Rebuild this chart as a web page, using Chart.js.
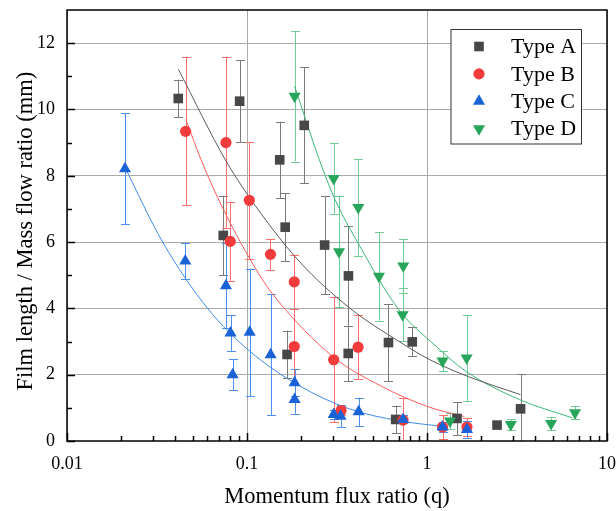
<!DOCTYPE html>
<html>
<head>
<meta charset="utf-8">
<script src="https://cdn.jsdelivr.net/npm/chart.js@4.4.0/dist/chart.umd.min.js"></script>
<style>
  html, body { margin: 0; padding: 0; background: #fff; }
</style>
</head>
<body>
<canvas id="grafico" width="616" height="511"></canvas>
<script>
// ===== DADOS =====
const seriesNames = ['Type A', 'Type B', 'Type C', 'Type D'];

// Type A
const qA = [0.0415, 0.0738, 0.091, 0.152, 0.163, 0.167, 0.208, 0.27, 0.365, 0.366, 0.611, 0.67, 0.828, 1.468, 2.45, 3.31];
const yA = [10.33, 6.20, 10.25, 8.48, 6.45, 2.61, 9.52, 5.91, 2.64, 4.98, 2.97, 0.65, 2.99, 0.68, 0.48, 0.97];
const eA = [0.57, 1.20, 1.23, 1.15, 1.02, 0.72, 1.75, 1.48, 0.83, 1.50, 1.16, 0.42, 0.44, 0.50, 0, 1.05];

// Type B
const qB = [0.0456, 0.0764, 0.0807, 0.103, 0.135, 0.183, 0.183, 0.303, 0.333, 0.414, 0.736, 1.22, 1.667];
const yB = [9.34, 9.00, 6.02, 7.26, 5.63, 4.80, 2.85, 2.45, 0.92, 2.83, 0.63, 0.42, 0.42];
const eB = [2.23, 2.57, 1.19, 1.76, 0.46, 0.82, 1.12, 1.88, 0.15, 0.96, 0.68, 0.37, 0.28];

// Type C
const qC = [0.021, 0.0454, 0.0764, 0.081, 0.0832, 0.1035, 0.1353, 0.1838, 0.1838, 0.303, 0.331, 0.417, 0.736, 1.22, 1.667];
const yC = [8.21, 5.43, 4.68, 3.26, 2.00, 3.28, 2.60, 1.76, 1.25, 0.80, 0.75, 0.88, 0.65, 0.42, 0.35];
const eC = [1.67, 0.54, 1.28, 0.54, 0.47, 1.92, 1.83, 0.40, 0.43, 0.15, 0.33, 0.43, 0.12, 0.15, 0.25];

// Type D
const qD = [0.1838, 0.303, 0.3245, 0.415, 0.541, 0.732, 0.738, 1.22, 1.342, 1.66, 2.92, 4.89, 6.64];
const yD = [10.40, 7.92, 5.71, 7.04, 4.97, 3.81, 5.28, 2.41, 0.60, 2.50, 0.50, 0.53, 0.85];
const eD = [1.97, 1.07, 1.68, 1.46, 1.34, 0.80, 0.81, 0.30, 0.25, 1.30, 0.16, 0.19, 0.20];

// curvas de ajuste (pontos lidos ao longo de cada curva)
const fitQA = [0.0416, 0.0764, 0.1146, 0.195, 0.37, 0.70, 1.03, 1.718, 3.3];
const fitYA = [11.21, 8.45, 7.00, 5.42, 4.02, 3.00, 2.46, 1.93, 1.40];
const fitQB = [0.0457, 0.0555, 0.0732, 0.117, 0.145, 0.299, 0.55, 1.03, 1.61];
const fitYB = [9.70, 8.49, 7.03, 5.02, 4.30, 2.55, 1.67, 1.02, 0.74];
const fitQC = [0.0208, 0.034, 0.0604, 0.103, 0.195, 0.37, 0.70, 1.22];
const fitYC = [8.29, 6.00, 4.00, 2.72, 1.67, 0.97, 0.61, 0.44];
const fitQD = [0.184, 0.252, 0.308, 0.421, 0.70, 1.122, 1.647, 3.26, 6.4];
const fitYD = [10.70, 8.49, 7.29, 5.90, 3.95, 2.86, 2.10, 1.25, 0.70];

const xTickLabels = ['0.01', '0.1', '1', '10'];
const yTicks = [0, 2, 4, 6, 8, 10, 12];

// ===== ESTILO =====
const FONTE = '"Liberation Serif", "Times New Roman", serif';
const COR_PONTO = ['#474747', '#f43c3c', '#1a63d6', '#27a55a'];
const COR_ERRO = ['#7a7a7a', '#ff6e6e', '#4b8ff0', '#72cc96'];
const COR_CURVA = ['#5a5a5a', '#ff5a5a', '#3d8be8', '#3cb878'];
const ESTILO = [
  { pointStyle: 'rect', radius: 6.8, rotation: 0 },
  { pointStyle: 'circle', radius: 5.6, rotation: 0 },
  { pointStyle: 'triangle', radius: 7, rotation: 0 },
  { pointStyle: 'triangle', radius: 7, rotation: 180 }
];

const pts = (xs, ys) => xs.map((x, i) => ({ x, y: ys[i] }));
const grupos = [[qA, yA, eA, fitQA, fitYA], [qB, yB, eB, fitQB, fitYB], [qC, yC, eC, fitQC, fitYC], [qD, yD, eD, fitQD, fitYD]];

const datasets = [];
grupos.forEach((g, k) => {
  datasets.push({
    label: seriesNames[k],
    data: pts(g[0], g[1]),
    errors: g[2],
    errColor: COR_ERRO[k],
    backgroundColor: COR_PONTO[k],
    borderColor: COR_PONTO[k],
    borderWidth: 0,
    pointStyle: ESTILO[k].pointStyle,
    pointRadius: ESTILO[k].radius,
    pointRotation: ESTILO[k].rotation,
    showLine: false,
    order: 4 - k
  });
});
grupos.forEach((g, k) => {
  datasets.push({
    label: 'fit ' + seriesNames[k],
    isFit: true,
    data: pts(g[3], g[4]),
    borderColor: COR_CURVA[k],
    borderWidth: 1,
    pointRadius: 0,
    showLine: true,
    cubicInterpolationMode: 'monotone',
    order: 10 + k
  });
});

const isDecada = v => Math.abs(Math.log10(v) - Math.round(Math.log10(v))) < 1e-6;
const semPadding = scale => { scale.paddingTop = 0; scale.paddingBottom = 0; scale.paddingLeft = 0; scale.paddingRight = 0; };

// barras de erro
const errorBars = {
  id: 'errorBars',
  beforeDatasetsDraw(chart) {
    const c = chart.ctx, xs = chart.scales.x, ys = chart.scales.y, a = chart.chartArea;
    c.save();
    c.beginPath();
    c.rect(a.left, a.top, a.right - a.left, a.bottom - a.top);
    c.clip();
    chart.data.datasets.forEach(ds => {
      if (!ds.errors) return;
      c.strokeStyle = ds.errColor;
      c.lineWidth = 1;
      ds.data.forEach((p, i) => {
        const e = ds.errors[i];
        if (!e) return;
        const x = Math.round(xs.getPixelForValue(p.x)) + 0.5;
        const y1 = ys.getPixelForValue(p.y + e);
        const y2 = ys.getPixelForValue(p.y - e);
        c.beginPath();
        c.moveTo(x, y1); c.lineTo(x, y2);
        c.moveTo(x - 4.5, Math.round(y1) + 0.5); c.lineTo(x + 4.5, Math.round(y1) + 0.5);
        c.moveTo(x - 4.5, Math.round(y2) + 0.5); c.lineTo(x + 4.5, Math.round(y2) + 0.5);
        c.stroke();
      });
    });
    c.restore();
  }
};

// moldura, ticks para dentro e legenda
const moldura = {
  id: 'moldura',
  afterDraw(chart) {
    const c = chart.ctx, a = chart.chartArea, xs = chart.scales.x, ys = chart.scales.y;
    c.save();
    c.strokeStyle = '#000';
    c.lineWidth = 1.5;
    c.beginPath();
    xs.ticks.forEach(t => {
      const x = Math.round(xs.getPixelForValue(t.value)) + 0.5;
      const len = isDecada(t.value) ? 8 : 5;
      c.moveTo(x, a.bottom); c.lineTo(x, a.bottom - len);
    });
    ys.ticks.forEach((t, i) => {
      const y = Math.round(ys.getPixelForValue(t.value)) + 0.5;
      c.moveTo(a.left, y); c.lineTo(a.left + 8, y);
      if (i < ys.ticks.length - 1) {
        const ym = Math.round(ys.getPixelForValue((t.value + ys.ticks[i + 1].value) / 2)) + 0.5;
        c.moveTo(a.left, ym); c.lineTo(a.left + 5, ym);
      }
    });
    c.stroke();
    c.strokeRect(a.left, a.top, a.right - a.left, a.bottom - a.top);

    // legenda
    const bx = a.right - 25.5, bw = 130.5, by = a.top + 19.5, bh = 114.5;
    c.fillStyle = '#fff';
    c.fillRect(bx - bw, by, bw, bh);
    c.strokeStyle = '#333';
    c.lineWidth = 1;
    c.strokeRect(bx - bw, by, bw, bh);
    c.font = '22px ' + FONTE;
    c.textBaseline = 'middle';
    c.textAlign = 'left';
    chart.data.datasets.filter(d => !d.isFit).forEach((d, i) => {
      const cy = by + 17 + i * 27.4;
      c.fillStyle = d.backgroundColor;
      Chart.helpers.drawPoint(c, { pointStyle: d.pointStyle, radius: d.pointRadius, rotation: d.pointRotation, borderWidth: 0 }, bx - bw + 28, cy);
      c.fillStyle = '#000';
      c.fillText(d.label, bx - bw + 60, cy + 1);
    });
    c.restore();
  }
};

new Chart(document.getElementById('grafico'), {
  type: 'scatter',
  data: { datasets },
  options: {
    responsive: false,
    animation: false,
    layout: { padding: { top: 10, right: 9, left: 0, bottom: 0 } },
    plugins: { legend: { display: false }, tooltip: { enabled: false } },
    scales: {
      x: {
        type: 'logarithmic',
        min: 0.01, max: 10,
        afterBuildTicks(scale) {
          const t = [];
          for (let e = -2; e <= 1; e++) {
            for (let m = 1; m <= 9; m++) {
              const v = Math.round(m * Math.pow(10, e) * 1e6) / 1e6;
              if (v >= scale.min - 1e-9 && v <= scale.max + 1e-9) t.push({ value: v, major: m === 1 });
            }
          }
          scale.ticks = t;
        },
        afterFit(scale) { scale.height = 70; semPadding(scale); },
        border: { display: false },
        grid: {
          drawTicks: false,
          color: c => (c.tick && isDecada(c.tick.value)) ? '#ababab' : 'rgba(0,0,0,0)',
          lineWidth: 1
        },
        ticks: {
          autoSkip: false, maxRotation: 0, padding: 12,
          color: '#000', font: { family: FONTE, size: 18 },
          callback: v => xTickLabels.find(l => Math.abs(Math.log10(Number(l)) - Math.log10(v)) < 1e-6) || ''
        },
        title: {
          display: true, text: 'Momentum flux ratio (q)', color: '#000',
          font: { family: FONTE, size: 22.5 }, padding: { top: 0, bottom: 0 }
        }
      },
      y: {
        min: 0, max: 13,
        afterBuildTicks(scale) { scale.ticks = yTicks.map(v => ({ value: v })); },
        afterFit(scale) { scale.width = 67; semPadding(scale); },
        border: { display: false },
        grid: {
          drawTicks: false,
          color: c => (c.tick && c.tick.value > 0) ? '#ababab' : 'rgba(0,0,0,0)',
          lineWidth: 1
        },
        ticks: { padding: 12, color: '#000', font: { family: FONTE, size: 18 } },
        title: {
          display: true, text: 'Film length / Mass flow ratio (mm)  ', color: '#000',
          font: { family: FONTE, size: 22.5 }, padding: { top: 13, bottom: 0 }
        }
      }
    }
  },
  plugins: [errorBars, moldura]
});
</script>
</body>
</html>
